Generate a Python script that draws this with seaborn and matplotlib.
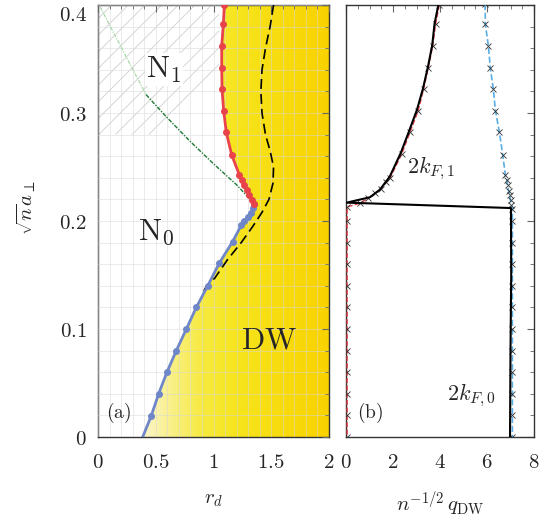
import numpy as np
import matplotlib
matplotlib.use("Agg")
import matplotlib.pyplot as plt
import seaborn as sns
from matplotlib.colors import LinearSegmentedColormap
from matplotlib.patches import Polygon

# ---- panel (a): phase boundaries ----
red_rd = [1.094, 1.085, 1.071, 1.071, 1.074, 1.088, 1.111, 1.158, 1.223, 1.247, 1.267, 1.287, 1.310, 1.333, 1.353]
red_y = [0.400, 0.382, 0.362, 0.342, 0.322, 0.302, 0.282, 0.261, 0.243, 0.238, 0.233, 0.229, 0.224, 0.219, 0.216]

blue_rd = [1.353, 1.345, 1.325, 1.297, 1.265, 1.240, 1.166, 1.050, 0.950, 0.851, 0.765, 0.678, 0.597, 0.525, 0.459, 0.387]
blue_y = [0.216, 0.2125, 0.207, 0.204, 0.200, 0.196, 0.181, 0.161, 0.140, 0.120, 0.100, 0.080, 0.060, 0.040, 0.019, 0.000]

green_light_rd = [0.02, 0.20, 0.416]
green_light_y = [0.398, 0.361, 0.317]
green_rd = [0.416, 0.60, 0.80, 1.00, 1.20, 1.353]
green_y = [0.317, 0.2955, 0.2735, 0.253, 0.2335, 0.216]

dash_rd = [1.52, 1.49, 1.45, 1.42, 1.41, 1.42, 1.45, 1.49, 1.52, 1.515, 1.48, 1.42, 1.34, 1.24, 1.12, 1.01, 0.935, 0.90]
dash_y = [0.400, 0.380, 0.360, 0.340, 0.320, 0.300, 0.280, 0.265, 0.250, 0.235, 0.220, 0.208, 0.195, 0.180, 0.164, 0.147, 0.139, 0.132]

hatch_rd = [0.0, 0.0, 1.05, 1.05, 0.55]
hatch_y = [0.28, 0.40, 0.40, 0.34, 0.28]

# ---- panel (b): DW wave vector ----
k_x = [3.94, 3.77, 3.67, 3.49, 3.28, 3.02, 2.68, 2.33, 1.86, 1.44, 1.02, 0.03, 7.02, 7.03, 7.00, 6.98]
k_y = [0.401, 0.383, 0.363, 0.343, 0.323, 0.303, 0.283, 0.263, 0.241, 0.229, 0.222, 0.217, 0.212, 0.15, 0.08, 0.0]

red_q_x = [3.97, 3.81, 3.69, 3.50, 3.30, 3.07, 2.72, 2.37, 1.88, 1.72, 1.50, 1.25, 0.95, 0.60, 0.05,
           0.05, 0.05, 0.05, 0.05, 0.05, 0.05, 0.05, 0.05, 0.05, 0.05, 0.05]
red_q_y = [0.400, 0.382, 0.362, 0.342, 0.322, 0.302, 0.282, 0.262, 0.240, 0.236, 0.230, 0.226, 0.221, 0.2165, 0.213,
           0.200, 0.180, 0.160, 0.140, 0.120, 0.100, 0.080, 0.060, 0.040, 0.020, 0.000]

blue_q_x = [5.92, 5.93, 6.06, 6.14, 6.27, 6.36, 6.53, 6.67, 6.78, 6.84, 6.88, 6.92, 6.97, 7.00, 7.04, 7.08,
            7.08, 7.08, 7.08, 7.08, 7.08, 7.08, 7.08, 7.08, 7.08, 7.08, 7.08]
blue_q_y = [0.401, 0.382, 0.362, 0.342, 0.322, 0.302, 0.282, 0.261, 0.243, 0.238, 0.233, 0.228, 0.224, 0.219, 0.215, 0.211,
            0.200, 0.180, 0.160, 0.140, 0.120, 0.100, 0.080, 0.060, 0.040, 0.020, 0.000]

a_xticks = [0, 0.5, 1, 1.5, 2]
a_xlabels = ['0', '0.5', '1', '1.5', '2']
b_xticks = [0, 2, 4, 6, 8]
b_xlabels = ['0', '2', '4', '6', '8']
yticks = [0, 0.1, 0.2, 0.3, 0.4]
ylabels = ['0', '0.1', '0.2', '0.3', '0.4']

sns.set_style("white")
plt.rcParams['mathtext.fontset'] = 'cm'
plt.rcParams['hatch.linewidth'] = 0.6
plt.rcParams['hatch.color'] = '#d0d0d0'

RED = '#e8434a'
BLUE = '#6f86c9'
LBLUE = '#5aaee3'
FS = 15

fig = plt.figure(figsize=(5.42, 5.2), dpi=100)
ax1 = fig.add_axes([98 / 542, 1 - 437 / 520, 231 / 542, 432 / 520])
ax2 = fig.add_axes([346 / 542, 1 - 437 / 520, 188 / 542, 432 / 520])


def style_axis(ax, xmaj, xlab, xminor, show_y):
    ax.set_xticks(xmaj, ['$' + s + '$' for s in xlab])
    ax.set_xticks(np.arange(0, xmaj[-1] + 1e-9, xminor), minor=True)
    ax.set_yticks(yticks, ['$' + s + '$' for s in ylabels] if show_y else [])
    ax.set_yticks(np.arange(0, 0.4001, 0.02), minor=True)
    ax.tick_params(which='both', direction='in', top=True, right=True, color='#666666', labelsize=FS)
    ax.tick_params(which='major', length=5, width=0.8)
    ax.tick_params(which='minor', length=3, width=0.6)
    ax.tick_params(axis='x', pad=11)
    ax.tick_params(axis='y', pad=8)
    for sp in ax.spines.values():
        sp.set_color('#333333')
        sp.set_linewidth(1.0)
    if show_y:
        # top label sits just under the frame edge, as in the original
        ax.get_yticklabels()[-1].set_va('top')


# --- panel (a) ---
ax = ax1
ax.set_xlim(0, 2)
ax.set_ylim(0, 0.4)
cmap = LinearSegmentedColormap.from_list(
    'dw', [(0.0, '#ffffff'), (0.2, '#fbf5c8'), (0.45, '#f7ea40'), (0.6, '#f6e51c'), (1.0, '#fad200')])
grad = np.linspace(0, 1, 400).reshape(1, -1)
img = ax.imshow(grad, extent=[0, 2, 0, 0.4], origin='lower', aspect='auto', cmap=cmap, zorder=0)
dw_x = red_rd + blue_rd[1:] + [2.0, 2.0]
dw_y = red_y + blue_y[1:] + [0.0, 0.4]
clip = Polygon(np.column_stack([dw_x, dw_y]), closed=True, transform=ax.transData, facecolor='none', edgecolor='none')
ax.add_patch(clip)
img.set_clip_path(clip)

ax.fill(hatch_rd, hatch_y, facecolor='none', edgecolor='#d0d0d0', linewidth=0, hatch='//', zorder=0.5)

ax.set_axisbelow(False)
ax.grid(which='both', color='#d8d8d8', linewidth=0.6, alpha=0.6)

ax.plot(green_light_rd, green_light_y, color='#a8d8a8', linewidth=0.9, dashes=(3, 1, 1, 1), zorder=3)
ax.plot(green_rd, green_y, color='#1f7a35', linewidth=1.0, dashes=(3, 1, 1, 1), zorder=3)
ax.plot(dash_rd, dash_y, color='black', linewidth=1.2, dashes=(6, 3), zorder=3)
sns.lineplot(x=blue_rd, y=blue_y, sort=False, estimator=None, ax=ax, color=BLUE, linewidth=2.0, zorder=4)
ax.plot(blue_rd[:-1], blue_y[:-1], 'o', color=BLUE, markersize=4, zorder=4)
sns.lineplot(x=red_rd, y=red_y, sort=False, estimator=None, ax=ax, color=RED, linewidth=2.0, zorder=5)
ax.plot(red_rd, red_y, 'o', color=RED, markersize=4, zorder=5)

ax.text(0.57, 0.34, r'$\mathrm{N}_1$', fontsize=22, ha='center', va='center', zorder=6,
        bbox=dict(facecolor='white', edgecolor='none', pad=1))
ax.text(0.50, 0.19, r'$\mathrm{N}_0$', fontsize=22, ha='center', va='center', zorder=6)
ax.text(1.48, 0.09, r'$\mathrm{DW}$', fontsize=22, ha='center', va='center', zorder=6)
ax.text(0.07, 0.022, r'$(\mathrm{a})$', fontsize=14, ha='left', va='center', zorder=6)

style_axis(ax, a_xticks, a_xlabels, 0.1, True)
ax.set_xlabel(r'$r_d$', fontsize=FS, labelpad=12)
ax.set_ylabel(r'$\sqrt{n}a_\perp$', fontsize=FS)
ax.yaxis.set_label_coords(-0.26, 0.53)

# --- panel (b) ---
ax = ax2
ax.set_xlim(0, 8)
ax.set_ylim(0, 0.4)
sns.lineplot(x=red_q_x, y=red_q_y, sort=False, estimator=None, ax=ax, color=RED,
             linewidth=1.0, linestyle='--', zorder=3)
sns.lineplot(x=blue_q_x, y=blue_q_y, sort=False, estimator=None, ax=ax, color=LBLUE,
             linewidth=1.2, linestyle='--', zorder=3)
ax.plot(red_q_x, red_q_y, 'x', color='#333333', markersize=5, mew=0.6, zorder=4)
ax.plot(blue_q_x, blue_q_y, 'x', color='#333333', markersize=5, mew=0.6, zorder=4)
sns.lineplot(x=k_x, y=k_y, sort=False, estimator=None, ax=ax, color='black', linewidth=1.5, zorder=5)

ax.text(3.64, 0.249, r'$2k_{F,1}$', fontsize=16, ha='center', va='center', zorder=6)
ax.text(5.34, 0.039, r'$2k_{F,0}$', fontsize=16, ha='center', va='center', zorder=6)
ax.text(0.45, 0.022, r'$(\mathrm{b})$', fontsize=14, ha='left', va='center', zorder=6)

style_axis(ax, b_xticks, b_xlabels, 0.5, False)
ax.set_xlabel(r'$n^{-1/2}\,q_{\mathrm{DW}}$', fontsize=FS, labelpad=12)
ax.set_ylabel('')

fig.savefig('out.png', dpi=100)
